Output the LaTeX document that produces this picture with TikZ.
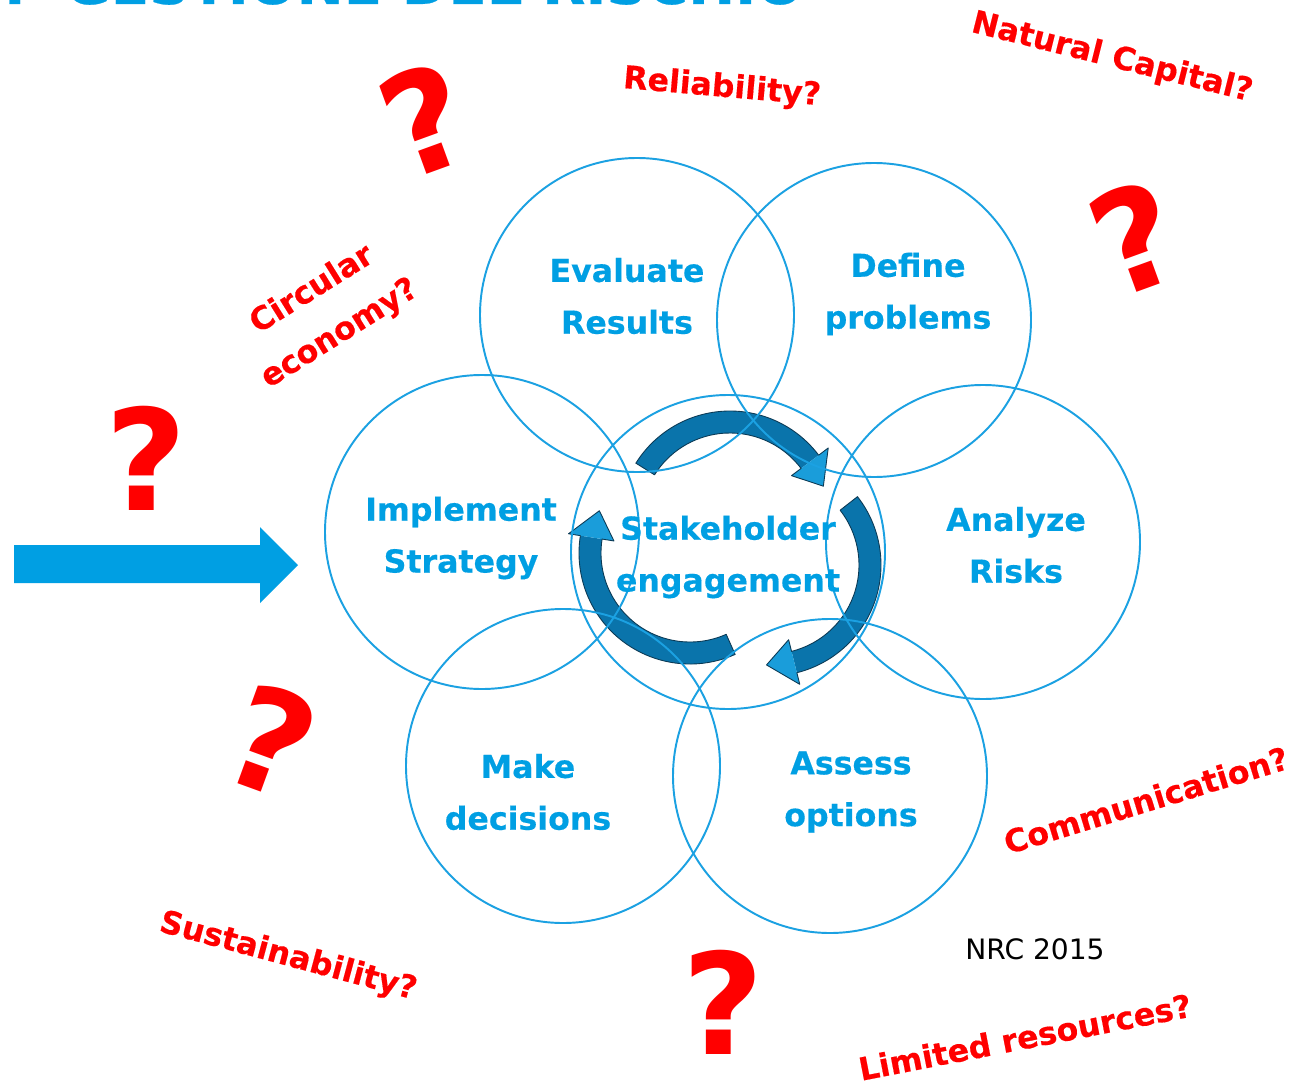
\documentclass[tikz,border=0pt]{standalone}
\usepackage{fontspec}
\setmainfont{DejaVu Sans}
\newfontfamily\heavy{DejaVu Sans Bold}[FakeBold=0.4]
\definecolor{ringblue}{HTML}{1BA1E2}
\definecolor{textblue}{HTML}{009FE3}
\definecolor{cyclelight}{HTML}{1A9DDA}
\definecolor{cycledark}{HTML}{0A74AB}
\definecolor{cycleedge}{HTML}{0B3A55}
\definecolor{alert}{HTML}{FF0000}

\tikzset{
    ring/.style={draw=ringblue, line width=1.1pt},
    phase/.style={text=textblue, font=\fontsize{18}{29.5}\selectfont\heavy, align=center},
    doubt/.style={text=alert, font=\fontsize{18}{29.5}\selectfont\heavy, align=center},
    qmark/.style={text=alert, font=\fontsize{80}{80}\selectfont\bfseries, inner sep=0pt},
}

% one block arrow of the stakeholder cycle, from angle #1 round to its tip at #2
\newcommand{\cyclearrow}[2]{%
    \pgfmathsetmacro{\headbase}{#2+16}
    \fill[cycledark] (#1:111) arc[start angle=#1, end angle=\headbase, radius=111]
        -- (\headbase:89) arc[start angle=\headbase, end angle=#1, radius=89] -- cycle;
    \fill[cyclelight] (\headbase:123) -- (#2:100) -- (\headbase:77) -- cycle;
    \draw[cycleedge, line width=0.5pt, line join=round]
        (#1:111) arc[start angle=#1, end angle=\headbase, radius=111]
        -- (\headbase:123) -- (#2:100) -- (\headbase:77)
        -- (\headbase:89) arc[start angle=\headbase, end angle=#1, radius=89] -- cycle;
}

\begin{document}
\begin{tikzpicture}[x=0.02cm, y=0.02cm]
    \useasboundingbox (0,0) rectangle (1302,-1088);
    \fill[white] (0,0) rectangle (1302,-1088);
    \clip (0,0) rectangle (1302,-1088);

    \node[anchor=base west, inner sep=0pt, text=textblue, font=\fontsize{32}{32}\selectfont\heavy] (title) at (4,-4) {I\hspace{0.7em}GESTIONE DEL RISCHIO};

    % the cycle in the middle
    \begin{scope}[shift={(730,-522)}]
        \cyclearrow{148}{21}
    \end{scope}
    \begin{scope}[shift={(770,-565)}]
        \cyclearrow{38}{-92}
    \end{scope}
    \begin{scope}[shift={(690,-553)}]
        \cyclearrow{-66}{-205}
    \end{scope}

    \draw[ring] (637,-315) circle (157);
    \draw[ring] (874,-320) circle (157);
    \draw[ring] (482,-532) circle (157);
    \draw[ring] (728,-552) circle (157);
    \draw[ring] (983,-542) circle (157);
    \draw[ring] (563,-766) circle (157);
    \draw[ring] (830,-776) circle (157);

    \node[phase] (evaluate) at (627,-296) {Evaluate\\Results};
    \node[phase] (define) at (908,-294) {Define\\problems};
    \node[phase] (implement) at (461,-538) {Implement\\Strategy};
    \node[phase] (stakeholder) at (728,-557) {Stakeholder\\engagement};
    \node[phase] (analyze) at (1016,-545) {Analyze\\Risks};
    \node[phase] (decide) at (528,-792) {Make\\decisions};
    \node[phase] (assess) at (851,-792) {Assess\\options};

    % input arrow
    \fill[textblue] (14,-545) -- (260,-545) -- (260,-527) -- (298,-565) -- (260,-603) -- (260,-583) -- (14,-583) -- cycle;

    \node[doubt, rotate=-5] (reliability) at (722,-88) {Reliability?};
    \node[doubt, rotate=-14] (natural) at (1112,-58) {Natural Capital?};
    \node[doubt, rotate=32] (circular) at (326,-312) {Circular\\economy?};
    \node[doubt, rotate=17] (communication) at (1146,-800) {Communication?};
    \node[doubt, rotate=-15] (sustainability) at (288,-957) {Sustainability?};
    \node[doubt, rotate=11] (resources) at (1025,-1037) {Limited resources?};

    \node[qmark, rotate=20] (q1) at (425,-120) {?};
    \node[qmark] (q2) at (146,-458) {?};
    \node[qmark, rotate=20] (q3) at (1135,-238) {?};
    \node[qmark, rotate=-20] (q4) at (272,-740) {?};
    \node[qmark] (q5) at (723,-1002) {?};

    \node[font=\fontsize{16}{16}\selectfont] (source) at (1035,-949) {NRC 2015};
\end{tikzpicture}
\end{document}
